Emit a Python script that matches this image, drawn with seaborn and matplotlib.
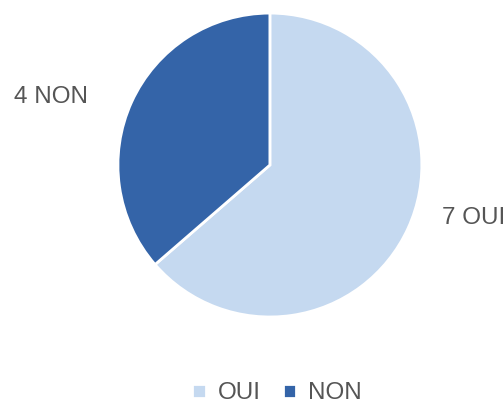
import matplotlib
matplotlib.use('Agg')
import matplotlib.pyplot as plt
import seaborn as sns

categories = ['OUI', 'NON']
counts = [7, 4]
colors = ['#C5D9F0', '#3464A8']

sns.set_theme(style='white')
plt.rcParams['font.family'] = ['Liberation Sans', 'DejaVu Sans']

fig = plt.figure(figsize=(5.04, 4.08), dpi=100)
ax = fig.add_axes([0.234, 0.223, 0.603, 0.745])

wedges, texts = ax.pie(counts, colors=colors, startangle=90, counterclock=False,
                       labels=[f'{c} {n}' for n, c in zip(categories, counts)],
                       labeldistance=1.3,
                       wedgeprops=dict(edgecolor='white', linewidth=2),
                       textprops=dict(fontsize=17.5, color='#555555'))
ax.set_xlim(-1, 1)
ax.set_ylim(-1, 1)
ax.set_aspect('equal')

# nudge labels to where the original has them
texts[0].set_position((1.13, -0.35))
texts[0].set_ha('left')
texts[0].set_va('center')
texts[1].set_position((-1.2, 0.45))
texts[1].set_ha('right')
texts[1].set_va('center')
for t in texts:
    t.set_clip_on(False)

fig.legend(wedges, categories, loc='lower center', bbox_to_anchor=(0.55, -0.045),
           ncol=2, frameon=False, fontsize=17.5, labelcolor='#555555',
           handlelength=0.55, handleheight=0.55, handletextpad=0.5, columnspacing=0.9)

fig.savefig('out.png', dpi=100)
